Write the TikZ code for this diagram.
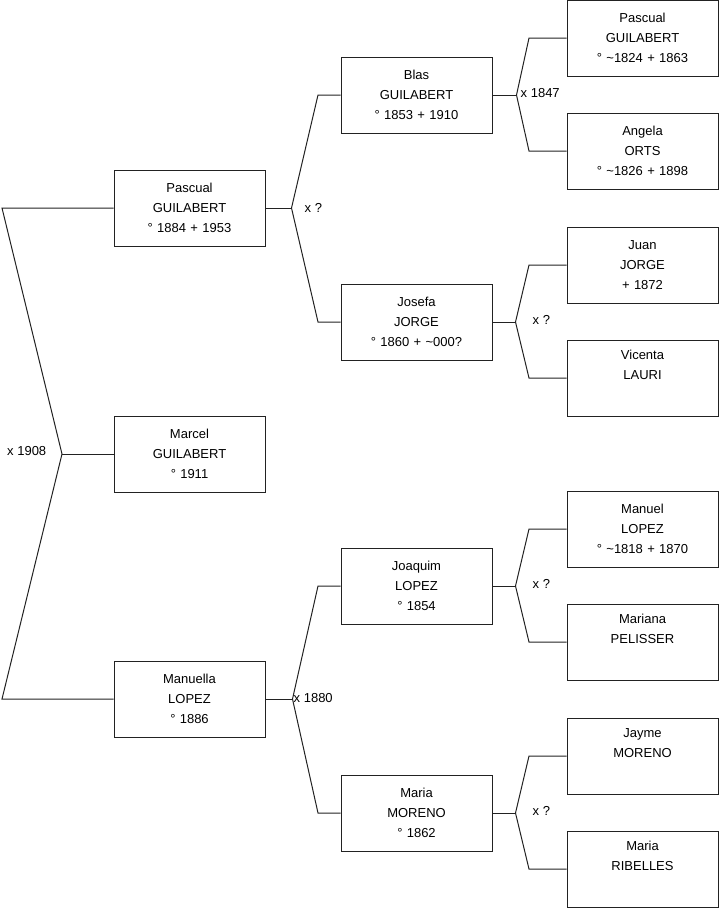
\documentclass[tikz,border=0pt]{standalone}
\usepackage{fontspec}
\setmainfont{Liberation Sans}
\usepackage{tikz}
\usetikzlibrary{positioning}
\definecolor{cLine}{HTML}{222222}
\tikzset{
  person/.style={draw=cLine,fill=white,line width=1pt,inner sep=0pt,
                 minimum width=151pt,minimum height=76pt,text width=145pt,
                 align=center,font=\fontsize{13}{20}\selectfont},
  link/.style  ={draw=cLine,line width=1pt},
  wed/.style   ={font=\fontsize{13}{15}\selectfont,inner sep=0pt,anchor=west},
}
\newcommand\tld{\textasciitilde}

\begin{document}
\begin{tikzpicture}[x=1pt,y=-1pt]
\useasboundingbox (0,0) rectangle (719,908);

% elbow columns of the forks
\coordinate (e0) at (2,0);
\coordinate (e1) at (318,0);
\coordinate (e2) at (529,0);

% child
\node[person] (marcel) at (189.5,454) {Marcel\\GUILABERT\\° 1911};

% parents
\node[person] (pascual)  at (189.5,208) {Pascual\\GUILABERT\\° 1884 + 1953};
\node[person] (manuella) at (189.5,699) {Manuella\\LOPEZ\\° 1886};

% grandparents
\node[person] (blas)    at (416.5,95)  {Blas\\GUILABERT\\° 1853 + 1910};
\node[person] (josefa)  at (416.5,322) {Josefa\\JORGE\\° 1860 + \tld000?};
\node[person] (joaquim) at (416.5,586) {Joaquim\\LOPEZ\\° 1854};
\node[person] (mariam)  at (416.5,813) {Maria\\MORENO\\° 1862};

% great-grandparents
\node[person] (pascualg) at (642.5,38)  {Pascual\\GUILABERT\\° \tld1824 + 1863};
\node[person] (angela)   at (642.5,151) {Angela\\ORTS\\° \tld1826 + 1898};
\node[person] (juan)     at (642.5,265) {Juan\\JORGE\\+ 1872};
\node[person] (vicenta)  at (642.5,378) {Vicenta\\LAURI\\\strut};
\node[person] (manuel)   at (642.5,529) {Manuel\\LOPEZ\\° \tld1818 + 1870};
\node[person] (mariana)  at (642.5,642) {Mariana\\PELISSER\\\strut};
\node[person] (jayme)    at (642.5,756) {Jayme\\MORENO\\\strut};
\node[person] (ribelles) at (642.5,869) {Maria\\RIBELLES\\\strut};

% marriage forks
\coordinate (v0) at (62,454);
\draw[link] (marcel.west) -- (v0);
\draw[link] (pascual.west) -- (pascual.west -| e0) -- (v0)
            -- (manuella.west -| e0) -- (manuella.west);
\node[wed] (w0) at (7,451) {x 1908};

\coordinate (v1) at ([xshift=26pt]pascual.east);
\draw[link] (pascual.east) -- (v1);
\draw[link] (blas.west) -- (blas.west -| e1) -- (v1)
            -- (josefa.west -| e1) -- (josefa.west);
\node[wed] (w1) at ([xshift=13pt]v1) {x ?};

\coordinate (v2) at ([xshift=27pt]manuella.east);
\draw[link] (manuella.east) -- (v2);
\draw[link] (joaquim.west) -- (joaquim.west -| e1) -- (v2)
            -- (mariam.west -| e1) -- (mariam.west);
\node[wed] (w2) at ([xshift=1pt,yshift=1pt]v2) {x 1880};

\coordinate (v3) at ([xshift=24pt]blas.east);
\draw[link] (blas.east) -- (v3);
\draw[link] (pascualg.west) -- (pascualg.west -| e2) -- (v3)
            -- (angela.west -| e2) -- (angela.west);
\node[wed] (w3) at ([xshift=4pt,yshift=2pt]v3) {x 1847};

\coordinate (v4) at ([xshift=23pt]josefa.east);
\draw[link] (josefa.east) -- (v4);
\draw[link] (juan.west) -- (juan.west -| e2) -- (v4)
            -- (vicenta.west -| e2) -- (vicenta.west);
\node[wed] (w4) at ([xshift=17pt,yshift=2pt]v4) {x ?};

\coordinate (v5) at ([xshift=23pt]joaquim.east);
\draw[link] (joaquim.east) -- (v5);
\draw[link] (manuel.west) -- (manuel.west -| e2) -- (v5)
            -- (mariana.west -| e2) -- (mariana.west);
\node[wed] (w5) at ([xshift=17pt,yshift=2pt]v5) {x ?};

\coordinate (v6) at ([xshift=23pt]mariam.east);
\draw[link] (mariam.east) -- (v6);
\draw[link] (jayme.west) -- (jayme.west -| e2) -- (v6)
            -- (ribelles.west -| e2) -- (ribelles.west);
\node[wed] (w6) at ([xshift=17pt,yshift=2pt]v6) {x ?};
\end{tikzpicture}
\end{document}
